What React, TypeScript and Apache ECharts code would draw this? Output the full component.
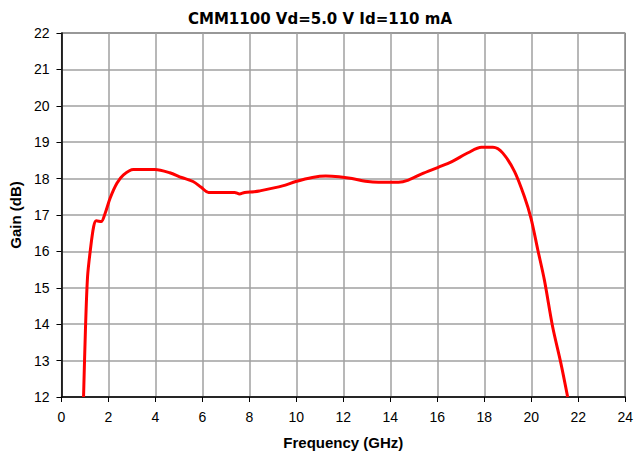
import React, { useEffect, useRef } from "react";
import * as echarts from "echarts";

const freq = [0.94, 1.02, 1.11, 1.23, 1.37, 1.48, 1.69, 1.86, 2.07, 2.36, 2.64, 3.06, 3.98, 4.61, 5.11, 5.6, 5.95, 6.26, 7.37, 7.58, 7.8, 8.2, 8.42, 9.41, 9.98, 10.68, 11.25, 11.81, 12.37, 12.94, 13.5, 14.35, 14.77, 15.34, 16.04, 16.6, 17.31, 17.88, 18.37, 18.79, 19.29, 19.71, 19.99, 20.28, 20.56, 20.91, 21.26, 21.55];
const gain = [12.0, 13.84, 15.3, 16.04, 16.68, 16.84, 16.82, 17.05, 17.46, 17.87, 18.1, 18.25, 18.25, 18.16, 18.03, 17.92, 17.76, 17.62, 17.62, 17.58, 17.62, 17.64, 17.66, 17.8, 17.92, 18.03, 18.07, 18.05, 18.0, 17.93, 17.9, 17.9, 17.96, 18.13, 18.31, 18.46, 18.71, 18.86, 18.86, 18.7, 18.19, 17.5, 16.91, 16.04, 15.21, 13.93, 12.93, 12.0];

const titleText = "CMM1100 Vd=5.0 V Id=110 mA";
const xName = "Frequency (GHz)";
const yName = "Gain (dB)";

export default function App() {
  const ref = useRef<HTMLDivElement>(null);
  useEffect(() => {
    if (!ref.current) return;
    const chart = echarts.init(ref.current, null, { renderer: "svg" });
    const font = "Liberation Sans, Arial, sans-serif";
    chart.setOption({
      animation: false,
      backgroundColor: "#fff",
      title: {
        text: titleText,
        left: 315,
        textAlign: "center",
        top: 6,
        textStyle: { fontFamily: "DejaVu Sans, sans-serif", fontSize: 15, fontWeight: "bold", color: "#000" },
      },
      grid: { left: 61, right: 8, top: 33, bottom: 60, show: true, borderColor: "#000", borderWidth: 1 },
      xAxis: {
        type: "value",
        min: 0,
        max: 24,
        interval: 2,
        name: xName,
        nameLocation: "middle",
        nameGap: 38,
        nameTextStyle: { fontFamily: font, fontSize: 15, fontWeight: "bold", color: "#000" },
        axisLine: { lineStyle: { color: "#000", width: 1.5 } },
        axisTick: { show: true, inside: false, length: 5, lineStyle: { color: "#000" } },
        axisLabel: { fontFamily: font, fontSize: 14, color: "#000", margin: 13 },
        splitLine: { show: true, lineStyle: { color: "#a0a0a0", width: 1.5 } },
      },
      yAxis: {
        type: "value",
        min: 12,
        max: 22,
        interval: 1,
        name: yName,
        nameLocation: "middle",
        nameGap: 38,
        nameTextStyle: { fontFamily: font, fontSize: 15, fontWeight: "bold", color: "#000" },
        axisLine: { show: true, lineStyle: { color: "#000", width: 1.5 } },
        axisTick: { show: true, inside: false, length: 5, lineStyle: { color: "#000" } },
        axisLabel: { fontFamily: font, fontSize: 14, color: "#000", margin: 12 },
        splitLine: { show: true, lineStyle: { color: "#a0a0a0", width: 1.5 } },
      },
      series: [
        {
          type: "line",
          data: freq.map((f, i) => [f, gain[i]]),
          smooth: 0.3,
          showSymbol: false,
          symbol: "none",
          lineStyle: { color: "#ff0000", width: 3 },
          clip: true,
        },
      ],
    });
    return () => chart.dispose();
  }, []);
  return <div ref={ref} style={{ position: "fixed", left: 0, top: 0, width: 636, height: 457 }} />;
}
